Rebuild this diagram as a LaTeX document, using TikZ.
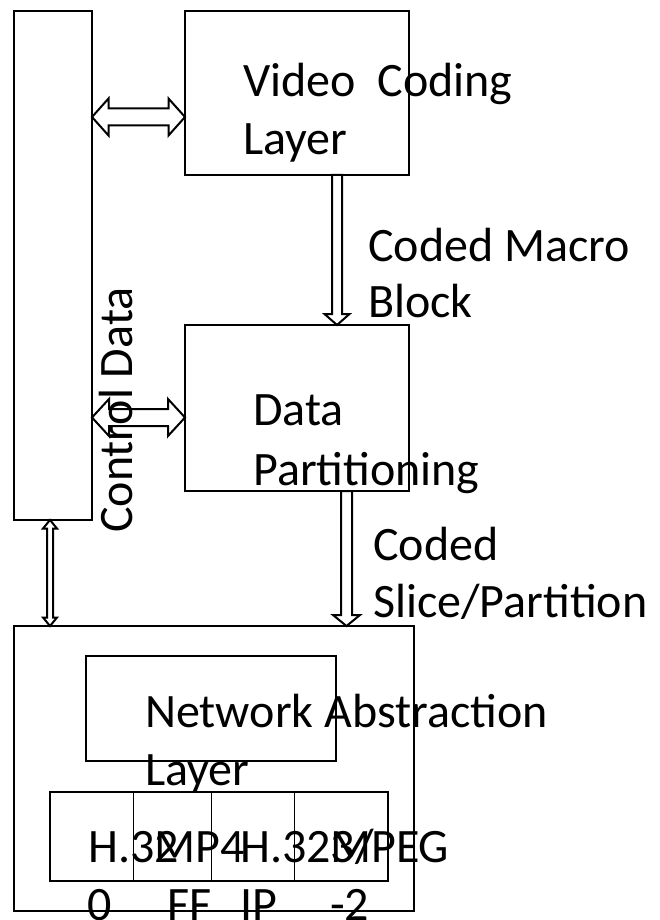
\documentclass[tikz,border=0pt]{standalone}
\usepackage{fontspec}
\setmainfont{Carlito}
\usetikzlibrary{calc}

% horizontal double block arrow: #1 left tip, #2 right tip, #3 head length, #4 head half-width, #5 shaft half-width
\newcommand\hdblarrow[5]{%
  \draw[blockarrow] (#1) -- ($(#1)+(#3,-#4)$) -- ($(#1)+(#3,-#5)$) -- ($(#2)+(-#3,-#5)$)
    -- ($(#2)+(-#3,-#4)$) -- (#2) -- ($(#2)+(-#3,#4)$) -- ($(#2)+(-#3,#5)$)
    -- ($(#1)+(#3,#5)$) -- ($(#1)+(#3,#4)$) -- cycle;}
% vertical double block arrow: #1 top tip, #2 bottom tip
\newcommand\vdblarrow[5]{%
  \draw[blockarrow] (#1) -- ($(#1)+(#4,#3)$) -- ($(#1)+(#5,#3)$) -- ($(#2)+(#5,-#3)$)
    -- ($(#2)+(#4,-#3)$) -- (#2) -- ($(#2)+(-#4,-#3)$) -- ($(#2)+(-#5,-#3)$)
    -- ($(#1)+(-#5,#3)$) -- ($(#1)+(-#4,#3)$) -- cycle;}
% downward block arrow: #1 tail, #2 tip
\newcommand\downarrowblk[5]{%
  \draw[blockarrow] ($(#1)+(-#5,0)$) -- ($(#2)+(-#5,-#3)$) -- ($(#2)+(-#4,-#3)$) -- (#2)
    -- ($(#2)+(#4,-#3)$) -- ($(#2)+(#5,-#3)$) -- ($(#1)+(#5,0)$) -- cycle;}

\begin{document}
\begin{tikzpicture}[x=1pt,y=-1pt,
  box/.style={draw,line width=2.6pt,outer sep=0pt,inner sep=0pt},
  blockarrow/.style={draw,line width=2pt,fill=white,line join=miter},
  divider/.style={line width=1pt},
  lbl/.style={anchor=base west,inner sep=0pt,font=\fontsize{48}{58}\selectfont}]

\useasboundingbox[fill=white] (0,0) rectangle (660,920);

% blocks
\node[box,minimum width=78pt,minimum height=509pt]  (ctl)   at (53,265.5) {};
\node[box,minimum width=224pt,minimum height=164pt] (vcl)   at (297,93)   {};
\node[box,minimum width=224pt,minimum height=166pt] (dp)    at (297,408)  {};
\node[box,minimum width=400pt,minimum height=285pt] (outer) at (214,768.5) {};
\node[box,minimum width=250pt,minimum height=105pt] (nal)   at (211,708.5) {};
\node[box,minimum width=338pt,minimum height=89pt]  (tab)   at (219,836.5) {};

% cell dividers of the transport table
\coordinate (d1) at (133,0);
\coordinate (d2) at (211,0);
\coordinate (d3) at (294,0);
\foreach \d in {d1,d2,d3}
  \draw[divider] (tab.north -| \d) -- (tab.south -| \d);

% arrow reference rows/columns
\coordinate (r1) at (0,117);
\coordinate (r2) at (0,417.5);
\coordinate (c0) at (50,0);
\coordinate (c1) at (337,0);
\coordinate (c2) at (346.5,0);

\coordinate (a1l) at (ctl.east |- r1);
\coordinate (a1r) at (vcl.west |- r1);
\coordinate (a2l) at (ctl.east |- r2);
\coordinate (a2r) at (dp.west |- r2);
\coordinate (a3t) at (ctl.south -| c0);
\coordinate (a3b) at (outer.north -| c0);
\coordinate (a4t) at (vcl.south -| c1);
\coordinate (a4b) at (dp.north -| c1);
\coordinate (a5t) at (dp.south -| c2);
\coordinate (a5b) at (outer.north -| c2);

\hdblarrow{a1l}{a1r}{16.5}{18.5}{8.5}
\hdblarrow{a2l}{a2r}{17}{18.5}{8.5}
\vdblarrow{a3t}{a3b}{8.5}{7}{3}
\downarrowblk{a4t}{a4b}{11}{12.5}{5}
\downarrowblk{a5t}{a5b}{11}{13.5}{5.5}

% labels
\node[lbl] (t1a) at (243,97)  {Video\ \ Coding};
\node[lbl] (t1b) at (243,155) {Layer};
\node[lbl] (t2a) at (368,261) {Coded Macro};
\node[lbl] (t2b) at (368,317) {Block};
\node[lbl] (t3a) at (253,425) {Data};
\node[lbl] (t3b) at (253,485) {Partitioning};
\node[lbl] (t4a) at (373,560) {Coded};
\node[lbl] (t4b) at (373,617) {Slice/Partition};
\node[lbl] (t5a) at (145,727) {Network Abstraction};
\node[lbl] (t5b) at (145,785) {Layer};
\node[lbl,rotate=90] (t6) at (132,533) {Control Data};

\node[lbl] (h1a) at (88,862)  {H.32};
\node[lbl] (h1b) at (87,920)  {0};
\node[lbl] (h2a) at (154,862) {MP4};
\node[lbl] (h2b) at (167,920) {FF};
\node[lbl] (h3a) at (240,862) {H.323/};
\node[lbl] (h3b) at (240,920) {IP};
\node[lbl] (h4a) at (330,862) {MPEG};
\node[lbl] (h4b) at (330,920) {-2};
\end{tikzpicture}
\end{document}
